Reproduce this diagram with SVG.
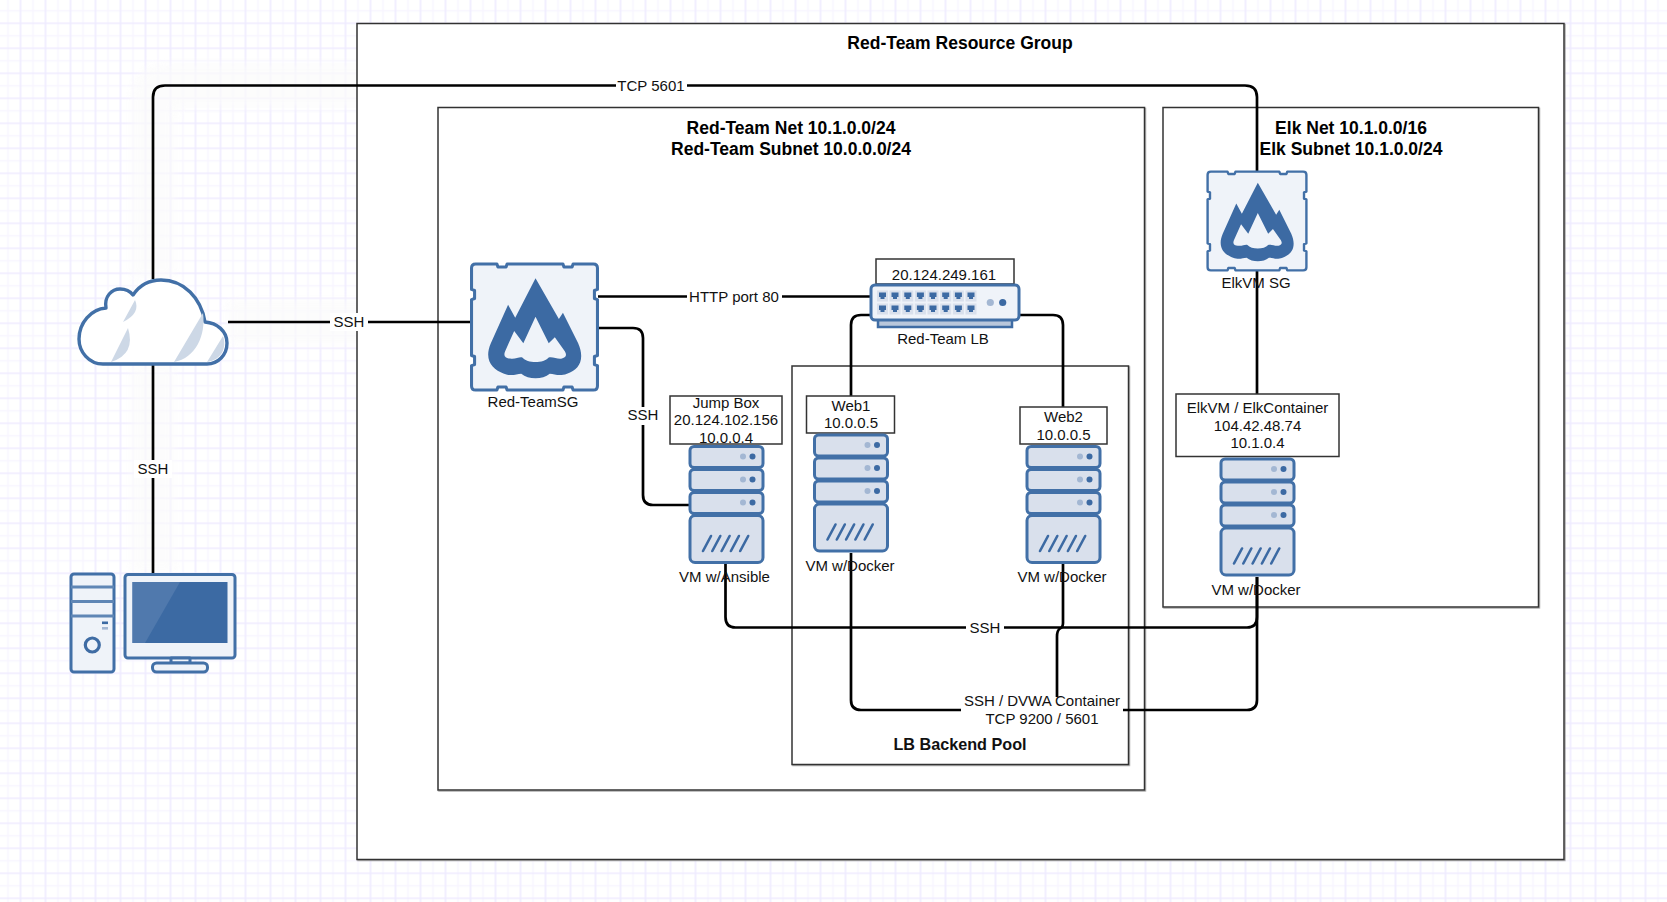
<svg xmlns="http://www.w3.org/2000/svg" xmlns:xlink="http://www.w3.org/1999/xlink" width="1667" height="902" viewBox="0 0 1667 902">
<style>
text{font-family:"Liberation Sans",Arial,sans-serif;font-size:15px;text-anchor:middle;fill:#111}
.b{font-weight:bold;font-size:17.500px;fill:#000}
.box{fill:#fff;stroke:#333;stroke-width:1.500}
.box0{fill:#fff;stroke:#333;stroke-width:1.500;filter:url(#sh)}
.wire{fill:none;stroke:#000;stroke-width:2.700}
.halo{fill:none;stroke:#fbfbfb;stroke-width:44;stroke-linejoin:round;opacity:.7}
.ic{stroke:#4270a7;stroke-width:3;stroke-linejoin:round}
.lt{fill:#eff3f9}.md{fill:#d9e0ec}.dk{fill:#3c6aa3}.dl{fill:#a3b7d3}
.bg{fill:#fff}
</style>
<defs>
<pattern id="g" x="-4.500" y="-1.700" width="25" height="25" patternUnits="userSpaceOnUse">
<path d="M12.500,0V25M0,12.500H25" stroke="#f7f5ff" stroke-width="1.500" fill="none"/>
<path d="M0,0V25M25,0V25M0,0H25M0,25H25" stroke="#efebff" stroke-width="1.600" fill="none"/>
</pattern>
<filter id="sh" x="-2%" y="-2%" width="104%" height="104%"><feDropShadow dx=".8" dy=".8" stdDeviation=".4" flood-color="#999"/></filter>
<filter id="bl" x="-20%" y="-20%" width="140%" height="140%"><feGaussianBlur stdDeviation="5"/></filter>
<symbol id="server" viewBox="0 0 75 120" width="75" height="120" overflow="visible">
<rect x="3" y="15" width="68" height="60" fill="#7395bf"/>
<rect class="ic md" x="1" y="1.500" width="73" height="21" rx="4"/>
<rect class="ic md" x="1" y="24.500" width="73" height="21" rx="4"/>
<rect class="ic md" x="1" y="47.500" width="73" height="21" rx="4"/>
<rect class="ic md" x="1" y="70.500" width="73" height="47" rx="5"/>
<circle class="dl" cx="54" cy="11.500" r="3"/><circle class="dk" cx="63.500" cy="11.500" r="3"/>
<circle class="dl" cx="54" cy="34.500" r="3"/><circle class="dk" cx="63.500" cy="34.500" r="3"/>
<circle class="dl" cx="54" cy="57.500" r="3"/><circle class="dk" cx="63.500" cy="57.500" r="3"/>
<path d="M14,106L22,91M23.300,106L31.300,91M32.600,106L40.600,91M41.900,106L49.900,91M51.200,106L59.200,91" stroke="#3c6aa3" stroke-width="2.600" stroke-linecap="round" fill="none"/>
</symbol>
<symbol id="sg" viewBox="0 0 128 128" overflow="visible">
<path class="ic lt" d="M6,2H27l1,3h8l1,-3H92l1,3h8l1,-3H122Q126,2 126,6V27l-3,1v8l3,1V92l-3,1v8l3,1V122Q126,126 122,126H102l-1,-3h-8l-1,3H37l-1,-3h-8l-1,3H6Q2,126 2,122V102l3,-1v-8l-3,-1V37l3,-1v-8l-3,-1V6Q2,2 6,2Z"/>
<path class="dk" fill-rule="evenodd" d="M65,16L88,56L92,50L107,80C114,96 108,106 96,110C88,113 84,110 79,110C72,116 58,116 51,110C46,110 42,113 34,110C22,106 14,96 21,80L38,42L45,55ZM65,54L53,80L44,68L35,88C33,93 36,95 40,95C45,96 49,93 52,94C57,100 73,100 78,94C82,93 87,96 91,95C95,94 96,92 94,88L84,74L78,80Z"/>
</symbol>
<g id="port"><rect class="md" x="-5.500" y="-5.500" width="11" height="11"/><path class="dk" d="M-3.500,-3.500H3.500V1H2V3H-2V1H-3.500Z"/></g>
<g id="paths">
<path id="c1" d="M153,279V97Q153,85.500 165,85.500H1245Q1257,85.500 1257,97V171"/>
<path id="c2" d="M228,322H470"/>
<path id="c3" d="M153,365V573"/>
<path id="c4" d="M598,296.500H872"/>
<path id="c5" d="M598,328H633Q643,328 643,338V495Q643,505 653,505H689"/>
<path id="c6" d="M870,315H861Q851,315 851,325V396"/>
<path id="c7" d="M1019,315H1053Q1063,315 1063,325V407"/>
<path id="c8" d="M1257,271V394"/>
<path id="c9" d="M725.500,564V617Q725.500,627.500 735.500,627.500H1247Q1257,627.500 1257,617V577"/>
<path id="c10" d="M851,553V700Q851,710 861,710H1247Q1257,710 1257,700V577"/>
<path id="c11" d="M1063,564V623Q1063,627.500 1060,628.500Q1057,630.500 1057,636.500V712"/>
</g>
</defs>

<rect width="1667" height="902" fill="#fff"/>
<rect width="1667" height="902" fill="url(#g)"/>

<g id="halo" class="halo" filter="url(#bl)">
<use xlink:href="#c1" href="#c1"/><use xlink:href="#c2" href="#c2"/><use xlink:href="#c3" href="#c3"/><use xlink:href="#c4" href="#c4"/><use xlink:href="#c5" href="#c5"/><use xlink:href="#c6" href="#c6"/><use xlink:href="#c7" href="#c7"/><use xlink:href="#c8" href="#c8"/><use xlink:href="#c9" href="#c9"/><use xlink:href="#c10" href="#c10"/><use xlink:href="#c11" href="#c11"/>
</g>

<g id="groups">
<rect id="resource-group" class="box0" x="357" y="23.500" width="1207" height="836"/>
<rect id="red-team-net" class="box0" x="438" y="107.500" width="706.500" height="682.500"/>
<rect id="backend-pool" class="box0" x="792" y="366" width="336.500" height="398.500"/>
<rect id="elk-net" class="box0" x="1163" y="107.500" width="375.500" height="499.500"/>
</g>

<g id="group-titles">
<text class="b" x="960" y="48.700">Red-Team Resource Group</text>
<text class="b" x="791" y="133.700">Red-Team Net 10.1.0.0/24</text>
<text class="b" x="791" y="154.700">Red-Team Subnet 10.0.0.0/24</text>
<text class="b" x="1351" y="133.700">Elk Net 10.1.0.0/16</text>
<text class="b" x="1351" y="154.700">Elk Subnet 10.1.0.0/24</text>
<text class="b" x="960" y="750" style="font-size:16.200px;fill:#111">LB Backend Pool</text>
</g>

<g id="connectors" class="wire">
<use xlink:href="#c1" href="#c1"/><use xlink:href="#c2" href="#c2"/><use xlink:href="#c3" href="#c3"/><use xlink:href="#c4" href="#c4"/><use xlink:href="#c5" href="#c5"/><use xlink:href="#c6" href="#c6"/><use xlink:href="#c7" href="#c7"/><use xlink:href="#c8" href="#c8"/><use xlink:href="#c9" href="#c9"/><use xlink:href="#c10" href="#c10"/><use xlink:href="#c11" href="#c11"/>
</g>

<g id="connector-labels">
<rect class="bg" x="616" y="76" width="71" height="18"/><text x="651" y="90.500">TCP 5601</text>
<rect class="bg" x="330" y="313" width="38" height="18"/><text x="349" y="327">SSH</text>
<rect class="bg" x="134" y="460" width="38" height="18"/><text x="153" y="474">SSH</text>
<rect class="bg" x="687" y="287" width="95" height="18"/><text x="734" y="301.500">HTTP port 80</text>
<rect class="bg" x="624" y="407" width="38" height="18"/><text x="643" y="420">SSH</text>
<rect class="bg" x="966" y="618" width="38" height="18"/><text x="985" y="632.500">SSH</text>
<rect class="bg" x="961" y="697" width="162" height="34"/>
<text x="1042" y="706">SSH / DVWA Container</text>
<text x="1042" y="724">TCP 9200 / 5601</text>
</g>

<g id="cloud">
<path class="ic" style="stroke-width:3.400" fill="#fff" d="M103,364C89,364 79,352 79,339C79,323 91,309 106,308C104,296 112,289 120,289C125,289 130,291 133,295C139,286 149,280 161,280C184,280 201,298 205,322C217,323 227,331 227,343C227,355 218,364 207,364Z"/>
<path fill="#cdd8e6" d="M135,300Q141,313 123,322ZM128,328Q136,354 111,362ZM203,313C206,335 196,358 174,362ZM223,336C227,347 222,360 207,362Z"/>
</g>

<g id="workstation">
<rect class="ic lt" x="71" y="574" width="43" height="98" rx="3"/>
<path d="M71,587H114M71,601.500H114M71,616H114" stroke="#5f86b5" stroke-width="3" fill="none"/>
<rect class="dk" x="102" y="621.500" width="6" height="2.600"/><rect class="dl" x="102" y="627" width="6" height="2.600"/>
<circle cx="92.300" cy="645" r="7" fill="#eff3f9" stroke="#3f6ca4" stroke-width="3.200"/>
<rect class="ic lt" x="125" y="574.500" width="110" height="83.500" rx="3"/>
<rect class="dk" x="132.500" y="582" width="95" height="61"/>
<path fill="#5079ad" d="M132.500,582H180L145,643H132.500Z"/>
<rect class="ic lt" x="171" y="658" width="19" height="5"/>
<rect class="ic lt" x="152.500" y="663" width="55" height="9" rx="4"/>
</g>

<g id="red-team-sg">
<use xlink:href="#sg" href="#sg" x="469.500" y="262" width="130" height="130"/>
<text x="533" y="407">Red-TeamSG</text>
</g>

<g id="elkvm-sg">
<use xlink:href="#sg" href="#sg" x="1206" y="170" width="102" height="102"/>
<text x="1256" y="287.500">ElkVM SG</text>
</g>

<g id="red-team-lb">
<rect class="box" x="876" y="259" width="138" height="25"/>
<text x="944" y="279.500">20.124.249.161</text>
<rect x="878" y="319" width="134" height="8" fill="#b9c7db" stroke="#3f6ca4" stroke-width="2.500"/>
<rect class="ic lt" x="871" y="285" width="148" height="35" rx="4"/>
<g>
<use xlink:href="#port" href="#port" x="882.500" y="296"/><use xlink:href="#port" href="#port" x="895" y="296"/><use xlink:href="#port" href="#port" x="907.800" y="296"/><use xlink:href="#port" href="#port" x="920.400" y="296"/><use xlink:href="#port" href="#port" x="933" y="296"/><use xlink:href="#port" href="#port" x="945.700" y="296"/><use xlink:href="#port" href="#port" x="958.400" y="296"/><use xlink:href="#port" href="#port" x="971" y="296"/>
<use xlink:href="#port" href="#port" x="882.500" y="309"/><use xlink:href="#port" href="#port" x="895" y="309"/><use xlink:href="#port" href="#port" x="907.800" y="309"/><use xlink:href="#port" href="#port" x="920.400" y="309"/><use xlink:href="#port" href="#port" x="933" y="309"/><use xlink:href="#port" href="#port" x="945.700" y="309"/><use xlink:href="#port" href="#port" x="958.400" y="309"/><use xlink:href="#port" href="#port" x="971" y="309"/>
</g>
<circle class="dl" cx="990.300" cy="302.500" r="3.600"/><circle class="dk" cx="1002.700" cy="302.500" r="3.600"/>
<text x="943" y="343.500">Red-Team LB</text>
</g>

<g id="jump-box">
<rect class="box" x="670" y="396" width="112" height="48"/>
<text x="726" y="408">Jump Box</text>
<text x="726" y="424.500">20.124.102.156</text>
<text x="726" y="442.500">10.0.0.4</text>
<use xlink:href="#server" href="#server" x="689" y="445"/>
<text x="724.500" y="581.500">VM w/Ansible</text>
</g>

<g id="web1">
<rect class="box" x="806.500" y="396" width="88" height="37"/>
<text x="851" y="410.500">Web1</text>
<text x="851" y="427.500">10.0.0.5</text>
<use xlink:href="#server" href="#server" x="813.500" y="433.500"/>
<text x="850" y="570.500">VM w/Docker</text>
</g>

<g id="web2">
<rect class="box" x="1020" y="407" width="87" height="37"/>
<text x="1063.500" y="421.500">Web2</text>
<text x="1063.500" y="439.500">10.0.0.5</text>
<use xlink:href="#server" href="#server" x="1026" y="445"/>
<text x="1062" y="581.500">VM w/Docker</text>
</g>

<g id="elk-vm">
<rect class="box" x="1176" y="394" width="163" height="62.500"/>
<text x="1257.500" y="412.500">ElkVM / ElkContainer</text>
<text x="1257.500" y="430.500">104.42.48.74</text>
<text x="1257.500" y="447.500">10.1.0.4</text>
<use xlink:href="#server" href="#server" x="1220" y="457.500"/>
<text x="1256" y="594.500">VM w/Docker</text>
</g>
</svg>
